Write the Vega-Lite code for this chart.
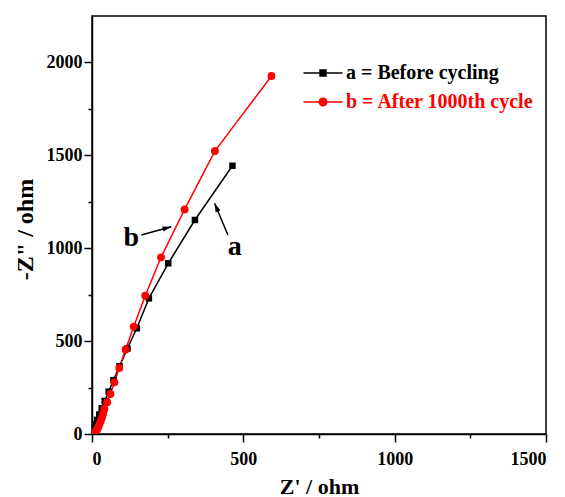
{
  "$schema": "https://vega.github.io/schema/vega-lite/v6.json",
  "width": 454,
  "height": 418,
  "autosize": "none",
  "padding": {"left": 92, "top": 16, "right": 19, "bottom": 63},
  "background": "white",
  "config": {
    "view": {"stroke": "black", "strokeWidth": 1.5},
    "axis": {
      "domainColor": "black", "domainWidth": 1.5, "tickColor": "black", "tickWidth": 1.5,
      "labelFont": "Liberation Serif", "labelFontWeight": "bold", "labelFontSize": 18, "labelColor": "black",
      "titleFont": "Liberation Serif", "titleFontWeight": "bold", "titleFontSize": 22, "titleColor": "black",
      "grid": false, "format": "d"
    },
    "legend": {
      "orient": "none", "legendX": 220, "legendY": 46, "title": null, "padding": 0,
      "symbolSize": 400, "rowPadding": 8, "labelOffset": 12, "labelLimit": 400,
      "labelFont": "Liberation Serif", "labelFontWeight": "bold", "labelFontSize": 20
    }
  },
  "resolve": {"axis": {"x": "independent", "y": "independent"}},
  "datasets": {
    "series": [
      {"Zre": 1, "Zim": 5, "sample": "a = Before cycling"},
      {"Zre": 3, "Zim": 16, "sample": "a = Before cycling"},
      {"Zre": 6, "Zim": 32, "sample": "a = Before cycling"},
      {"Zre": 11, "Zim": 52, "sample": "a = Before cycling"},
      {"Zre": 17, "Zim": 76, "sample": "a = Before cycling"},
      {"Zre": 24, "Zim": 105, "sample": "a = Before cycling"},
      {"Zre": 32, "Zim": 138, "sample": "a = Before cycling"},
      {"Zre": 42, "Zim": 178, "sample": "a = Before cycling"},
      {"Zre": 55, "Zim": 228, "sample": "a = Before cycling"},
      {"Zre": 71, "Zim": 290, "sample": "a = Before cycling"},
      {"Zre": 91, "Zim": 365, "sample": "a = Before cycling"},
      {"Zre": 117, "Zim": 460, "sample": "a = Before cycling"},
      {"Zre": 148, "Zim": 569, "sample": "a = Before cycling"},
      {"Zre": 188, "Zim": 730, "sample": "a = Before cycling"},
      {"Zre": 252, "Zim": 919, "sample": "a = Before cycling"},
      {"Zre": 340, "Zim": 1152, "sample": "a = Before cycling"},
      {"Zre": 464, "Zim": 1444, "sample": "a = Before cycling"},
      {"Zre": 9, "Zim": 3, "sample": "b = After 1000th cycle"},
      {"Zre": 11, "Zim": 8, "sample": "b = After 1000th cycle"},
      {"Zre": 13, "Zim": 14, "sample": "b = After 1000th cycle"},
      {"Zre": 16, "Zim": 22, "sample": "b = After 1000th cycle"},
      {"Zre": 19, "Zim": 31, "sample": "b = After 1000th cycle"},
      {"Zre": 22, "Zim": 42, "sample": "b = After 1000th cycle"},
      {"Zre": 25, "Zim": 55, "sample": "b = After 1000th cycle"},
      {"Zre": 29, "Zim": 70, "sample": "b = After 1000th cycle"},
      {"Zre": 33, "Zim": 88, "sample": "b = After 1000th cycle"},
      {"Zre": 37, "Zim": 110, "sample": "b = After 1000th cycle"},
      {"Zre": 41, "Zim": 135, "sample": "b = After 1000th cycle"},
      {"Zre": 50, "Zim": 171, "sample": "b = After 1000th cycle"},
      {"Zre": 61, "Zim": 215, "sample": "b = After 1000th cycle"},
      {"Zre": 74, "Zim": 278, "sample": "b = After 1000th cycle"},
      {"Zre": 90, "Zim": 355, "sample": "b = After 1000th cycle"},
      {"Zre": 111, "Zim": 455, "sample": "b = After 1000th cycle"},
      {"Zre": 138, "Zim": 578, "sample": "b = After 1000th cycle"},
      {"Zre": 176, "Zim": 744, "sample": "b = After 1000th cycle"},
      {"Zre": 228, "Zim": 951, "sample": "b = After 1000th cycle"},
      {"Zre": 306, "Zim": 1209, "sample": "b = After 1000th cycle"},
      {"Zre": 406, "Zim": 1523, "sample": "b = After 1000th cycle"},
      {"Zre": 593, "Zim": 1927, "sample": "b = After 1000th cycle"}
    ],
    "labels": [
      {"label": "a", "Zre": 472, "Zim": 1008},
      {"label": "b", "Zre": 130, "Zim": 1053}
    ],
    "arrows": [
      {"arrow": "a", "Zre": 449, "Zim": 1071, "Zre2": 405, "Zim2": 1242},
      {"arrow": "b", "Zre": 163, "Zim": 1071, "Zre2": 262, "Zim2": 1116}
    ]
  },
  "layer": [
    {
      "data": {"name": "series"},
      "mark": {"type": "line", "strokeWidth": 1.5, "clip": true},
      "encoding": {
        "x": {"field": "Zre", "type": "quantitative", "scale": {"domain": [0, 1500], "nice": false},
          "axis": {"orient": "bottom", "values": [0, 500, 1000, 1500], "tickSize": 8, "labelPadding": 8, "title": "Z' / ohm", "titlePadding": 8}},
        "y": {"field": "Zim", "type": "quantitative", "scale": {"domain": [0, 2250], "nice": false},
          "axis": {"orient": "left", "values": [0, 500, 1000, 1500, 2000], "tickSize": 8, "labelPadding": 2, "title": "-Z\" / ohm", "titleFontSize": 24, "titlePadding": 9, "titleY": 213}},
        "color": {"field": "sample", "type": "nominal", "scale": {"domain": ["a = Before cycling", "b = After 1000th cycle"], "range": ["black", "red"]},
          "legend": {
            "symbolType": "M-1.95,0H1.95",
            "encode": {
              "symbols": {
                "update": {
                  "shape": {"signal": "datum.value === 'a = Before cycling' ? 'M-1.95,0H1.95M-0.3,-0.3H0.3V0.3H-0.3Z' : 'M-1.95,0H1.95M-0.38,0A0.38,0.38,0,1,1,0.38,0A0.38,0.38,0,1,1,-0.38,0Z'"},
                  "stroke": {"signal": "datum.value === 'a = Before cycling' ? 'black' : 'red'"},
                  "fill": {"signal": "datum.value === 'a = Before cycling' ? 'black' : 'red'"},
                  "strokeWidth": {"value": 1.5},
                  "opacity": {"value": 1}
                }
              },
              "labels": {
                "update": {
                  "fill": {"signal": "datum.value === 'a = Before cycling' ? 'black' : 'red'"}
                }
              }
            }
          }}
      }
    },
    {
      "data": {"name": "series"},
      "transform": [{"filter": "datum.sample === 'a = Before cycling'"}],
      "mark": {"type": "point", "filled": true, "opacity": 1, "clip": true, "shape": "square", "size": 42, "color": "black"},
      "encoding": {
        "x": {"field": "Zre", "type": "quantitative", "axis": {"orient": "bottom", "values": [250, 750, 1250], "tickSize": 4, "labels": false, "domain": false, "title": null}},
        "y": {"field": "Zim", "type": "quantitative", "axis": {"orient": "left", "values": [250, 750, 1250, 1750], "tickSize": 4, "labels": false, "domain": false, "title": null}}
      }
    },
    {
      "data": {"name": "series"},
      "transform": [{"filter": "datum.sample === 'b = After 1000th cycle'"}],
      "mark": {"type": "point", "filled": true, "opacity": 1, "clip": true, "shape": "circle", "size": 62, "color": "red"},
      "encoding": {
        "x": {"field": "Zre", "type": "quantitative", "axis": null},
        "y": {"field": "Zim", "type": "quantitative", "axis": null}
      }
    },
    {
      "data": {"name": "labels"},
      "mark": {"type": "text", "font": "Liberation Serif", "fontWeight": "bold", "fontSize": 28, "color": "black", "baseline": "middle", "align": "center"},
      "encoding": {
        "x": {"field": "Zre", "type": "quantitative", "axis": null},
        "y": {"field": "Zim", "type": "quantitative", "axis": null},
        "text": {"field": "label"}
      }
    },
    {
      "data": {"name": "arrows"},
      "mark": {"type": "rule", "color": "black", "strokeWidth": 1.5},
      "encoding": {
        "x": {"field": "Zre", "type": "quantitative", "axis": null},
        "y": {"field": "Zim", "type": "quantitative", "axis": null},
        "x2": {"field": "Zre2"},
        "y2": {"field": "Zim2"}
      }
    },
    {
      "data": {"name": "arrows"},
      "transform": [{"filter": "datum.arrow === 'a'"}],
      "mark": {"type": "point", "filled": true, "color": "black", "opacity": 1, "size": 64, "shape": "M0,0L-0.65,2.2L0.65,2.2Z", "angle": 337},
      "encoding": {
        "x": {"field": "Zre2", "type": "quantitative", "axis": null},
        "y": {"field": "Zim2", "type": "quantitative", "axis": null}
      }
    },
    {
      "data": {"name": "arrows"},
      "transform": [{"filter": "datum.arrow === 'b'"}],
      "mark": {"type": "point", "filled": true, "color": "black", "opacity": 1, "size": 64, "shape": "M0,0L-0.65,2.2L0.65,2.2Z", "angle": 74.5},
      "encoding": {
        "x": {"field": "Zre2", "type": "quantitative", "axis": null},
        "y": {"field": "Zim2", "type": "quantitative", "axis": null}
      }
    }
  ]
}
